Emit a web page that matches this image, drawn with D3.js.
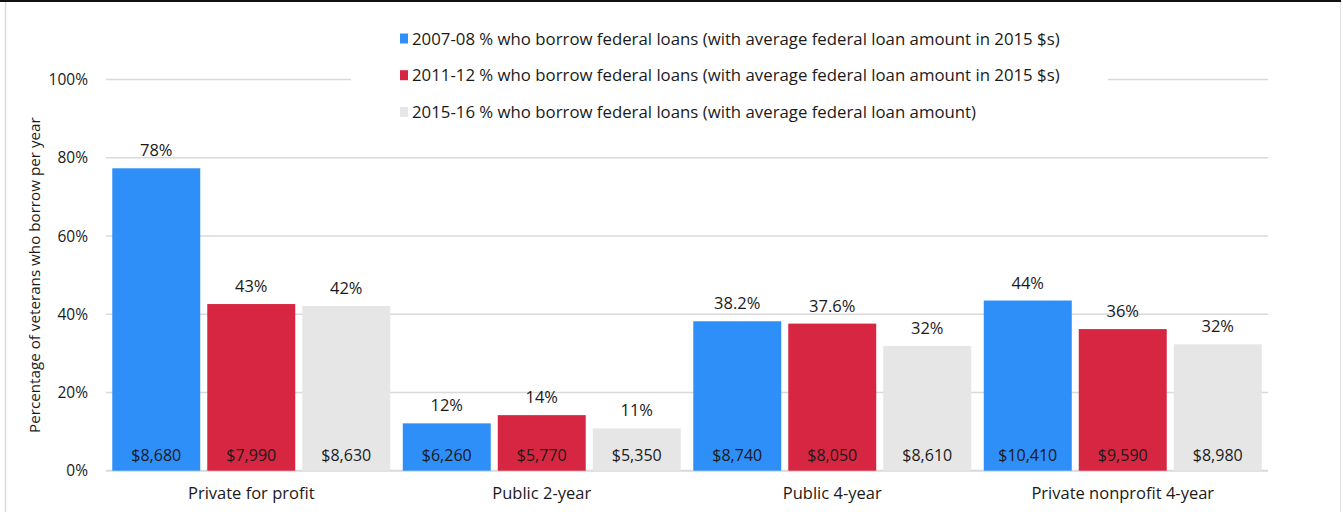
<!DOCTYPE html>
<html>
<head>
<meta charset="utf-8">
<script src="https://cdn.jsdelivr.net/npm/d3@7"></script>
<style>
  body { margin: 0; background: #fff; }
  text { font-family: "Open Sans", Lato, sans-serif; fill: #1a1a1a; }
</style>
</head>
<body>
<div id="chart"></div>
<script>
// categories and series
const categories = ['Private for profit', 'Public 2-year', 'Public 4-year', 'Private nonprofit 4-year'];
const seriesNames = [
  '2007-08 % who borrow federal loans (with average federal loan amount in 2015 $s)',
  '2011-12 % who borrow federal loans (with average federal loan amount in 2015 $s)',
  '2015-16 % who borrow federal loans (with average federal loan amount)'
];
const seriesColors = ['#2e8ff8', '#d72641', '#e6e6e6'];

// share who borrow, per series (bar heights)
const share0708 = [77.3, 12.1, 38.2, 43.5];
const share1112 = [42.6, 14.2, 37.6, 36.2];
const share1516 = [42.1, 10.8, 31.9, 32.3];

// labels printed above the bars
const label0708 = ['78%', '12%', '38.2%', '44%'];
const label1112 = ['43%', '14%', '37.6%', '36%'];
const label1516 = ['42%', '11%', '32%', '32%'];

// average loan amounts printed in the bars
const amount0708 = [8680, 6260, 8740, 10410];
const amount1112 = [7990, 5770, 8050, 9590];
const amount1516 = [8630, 5350, 8610, 8980];

const yTicks = [0, 20, 40, 60, 80, 100];

const width = 1343, height = 512;
const margin = { top: 79.5, right: 75, bottom: 41.3, left: 106 };

const svg = d3.select('#chart').append('svg')
  .attr('width', width)
  .attr('height', height);

// frame
svg.append('line').attr('x1', 0).attr('x2', 1341).attr('y1', 1).attr('y2', 1)
  .attr('stroke', '#111').attr('stroke-width', 2);
svg.append('line').attr('x1', 5.5).attr('x2', 5.5).attr('y1', 2).attr('y2', height)
  .attr('stroke', '#d9d9d9').attr('stroke-width', 1.5);
svg.append('line').attr('x1', 1340.5).attr('x2', 1340.5).attr('y1', 2).attr('y2', height)
  .attr('stroke', '#e3e3e3').attr('stroke-width', 1);

const x0 = d3.scaleBand()
  .domain(categories)
  .range([margin.left, width - margin.right]);

const x1 = d3.scaleBand()
  .domain([0, 1, 2])
  .range([0, x0.bandwidth()])
  .paddingInner(0.0737)
  .paddingOuter(0.066);

const y = d3.scaleLinear()
  .domain([0, 100])
  .range([height - margin.bottom, margin.top]);

// gridlines
svg.append('g')
  .selectAll('line')
  .data(yTicks)
  .enter()
  .append('line')
  .attr('x1', margin.left)
  .attr('x2', width - margin.right)
  .attr('y1', d => y(d))
  .attr('y2', d => y(d))
  .attr('stroke', '#d9d9d9')
  .attr('stroke-width', d => d === 0 ? 2 : 1.5);

// y tick labels
svg.append('g')
  .selectAll('text')
  .data(yTicks)
  .enter()
  .append('text')
  .attr('x', 88)
  .attr('y', d => y(d))
  .attr('dy', '0.36em')
  .attr('text-anchor', 'end')
  .attr('font-size', 15.5)
  .text(d => d + '%');

// y axis title
svg.append('text')
  .attr('transform', `translate(40,${(y(0) + y(100)) / 2}) rotate(-90)`)
  .attr('text-anchor', 'middle')
  .attr('font-size', 15.2)
  .text('Percentage of veterans who borrow per year');

const shares = [share0708, share1112, share1516];
const labels = [label0708, label1112, label1516];
const amounts = [amount0708, amount1112, amount1516];

const rows = [];
categories.forEach((c, i) => {
  for (let s = 0; s < 3; s++) {
    rows.push({ cat: c, s: s, v: shares[s][i], label: labels[s][i], amount: amounts[s][i] });
  }
});

const fmt = d3.format('$,');

const bar = svg.append('g')
  .selectAll('g')
  .data(rows)
  .enter()
  .append('g')
  .attr('transform', d => `translate(${x0(d.cat) + x1(d.s)},0)`);

bar.append('rect')
  .attr('y', d => y(d.v))
  .attr('width', x1.bandwidth())
  .attr('height', d => y(0) - y(d.v))
  .attr('fill', d => seriesColors[d.s]);

bar.append('text')
  .attr('x', x1.bandwidth() / 2)
  .attr('y', d => y(d.v) - 12)
  .attr('text-anchor', 'middle')
  .attr('font-size', 16.5)
  .text(d => d.label);

bar.append('text')
  .attr('x', x1.bandwidth() / 2)
  .attr('y', y(0) - 10)
  .attr('text-anchor', 'middle')
  .attr('font-size', 16)
  .text(d => fmt(d.amount));

// category labels
svg.append('g')
  .selectAll('text')
  .data(categories)
  .enter()
  .append('text')
  .attr('x', d => x0(d) + x0.bandwidth() / 2)
  .attr('y', 499)
  .attr('text-anchor', 'middle')
  .attr('font-size', 16.5)
  .text(d => d);

// legend, with a white box hiding the top gridline
svg.append('rect')
  .attr('x', 351).attr('y', 22)
  .attr('width', 757).attr('height', 105)
  .attr('fill', '#fff');

const legend = svg.append('g')
  .selectAll('g')
  .data(seriesNames)
  .enter()
  .append('g')
  .attr('transform', (d, i) => `translate(400,${38.5 + i * 36.7})`);

legend.append('rect')
  .attr('x', 0).attr('y', -5)
  .attr('width', 8).attr('height', 10)
  .attr('fill', (d, i) => seriesColors[i]);

legend.append('text')
  .attr('x', 12)
  .attr('dy', '0.36em')
  .attr('font-size', 16.8)
  .text(d => d);
</script>
</body>
</html>
